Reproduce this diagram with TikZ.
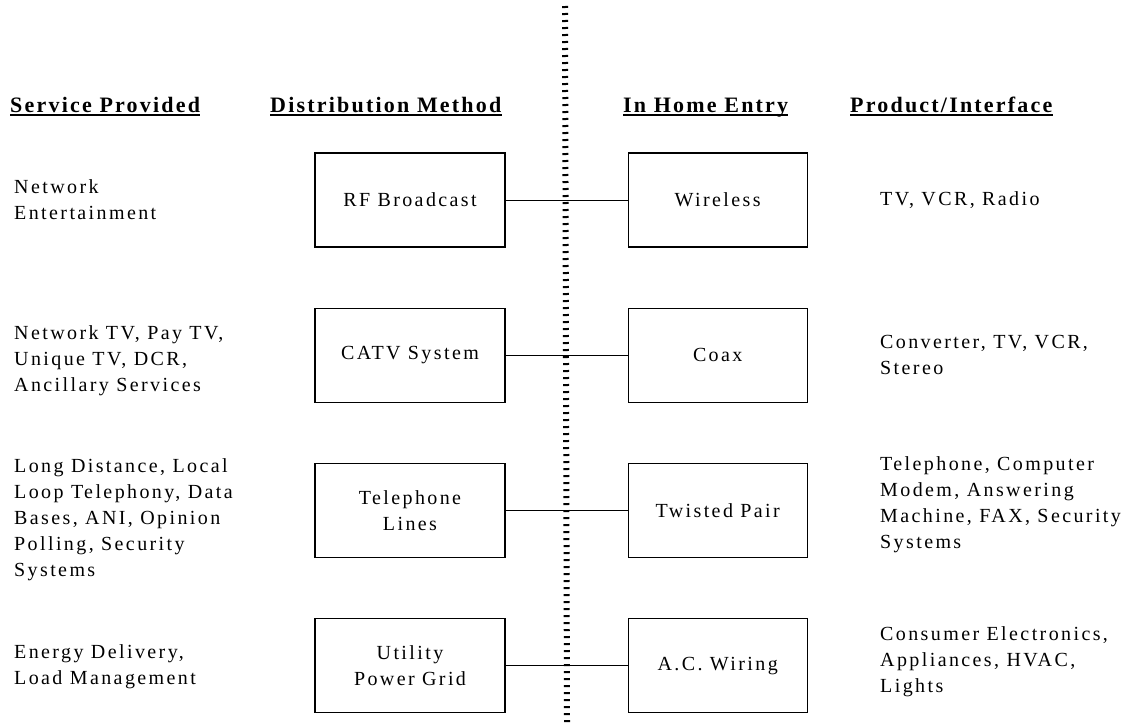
\documentclass[tikz,border=0pt]{standalone}
\usepackage{fontspec}
\setmainfont{Liberation Serif}[LetterSpace=12]
\newfontfamily\headfont{Liberation Serif}[LetterSpace=10]
\usetikzlibrary{positioning}

\begin{document}
\begin{tikzpicture}[
    x=1pt, y=-1pt,
    font=\fontsize{20}{26}\selectfont,
    block/.style={rectangle, draw, line width=1.2pt, minimum width=190pt, minimum height=94pt, inner sep=0pt, align=center},
    entry/.style={block, minimum width=179pt},
    desc/.style={anchor=west, inner sep=0pt, align=left},
    head/.style={anchor=base west, inner sep=0pt, font=\headfont\fontsize{22}{26}\selectfont\bfseries},
    uline/.style={draw, line width=1.5pt},
    line/.style={draw, line width=1pt},
    divider/.style={draw, line width=6pt, dash pattern=on 2pt off 5pt}
  ]
    \useasboundingbox (0,0) rectangle (1126,723);

    % Column headings
    \node [head] (hsvc) at (10,112) {Service Provided};
    \node [head] (hdist) at (270,112) {Distribution Method};
    \node [head] (hhome) at (623,112) {In Home Entry};
    \node [head] (hprod) at (850,112) {Product/Interface};
    \foreach \h in {hsvc,hdist,hhome,hprod}
      \path [uline] ([yshift=-3pt]\h.base west) -- ([yshift=-3pt]\h.base east);

    % Distribution boxes
    \node [block] (rf) at (410,200) {RF Broadcast};
    \node [block, below=60pt of rf] (catv) {CATV System};
    \node [block, below=60pt of catv] (tel) {Telephone\\Lines};
    \node [block, below=60pt of tel] (grid) {Utility\\Power Grid};

    % In home entry boxes
    \node [entry, right=122pt of rf] (wireless) {Wireless};
    \node [entry, right=122pt of catv] (coax) {Coax};
    \node [entry, right=122pt of tel] (pair) {Twisted Pair};
    \node [entry, right=122pt of grid] (acw) {A.C. Wiring};

    % Services
    \node [desc] (svc1) at (14,200) {Network\\Entertainment};
    \node [desc] (svc2) at (14,361) {Network TV, Pay TV,\\Unique TV, DCR,\\Ancillary Services};
    \node [desc] (svc3) at (14,520) {Long Distance, Local\\Loop Telephony, Data\\Bases, ANI, Opinion\\Polling, Security\\Systems};
    \node [desc] (svc4) at (14,667) {Energy Delivery,\\Load Management};

    % Products
    \node [desc] (prod1) at (880,200) {TV, VCR, Radio};
    \node [desc] (prod2) at (880,355) {Converter, TV, VCR,\\Stereo};
    \node [desc] (prod3) at (880,505) {Telephone, Computer\\Modem, Answering\\Machine, FAX, Security\\Systems};
    \node [desc] (prod4) at (880,662) {Consumer Electronics,\\Appliances, HVAC,\\Lights};

    % Dividing line
    \coordinate (divtop) at (565,6);
    \coordinate (divbot) at (567,723);
    \path [divider] (divtop) -- (divbot);

    % Links
    \path [line] (rf) -- (wireless);
    \path [line] (catv) -- (coax);
    \path [line] (tel) -- (pair);
    \path [line] (grid) -- (acw);

\end{tikzpicture}
\end{document}
